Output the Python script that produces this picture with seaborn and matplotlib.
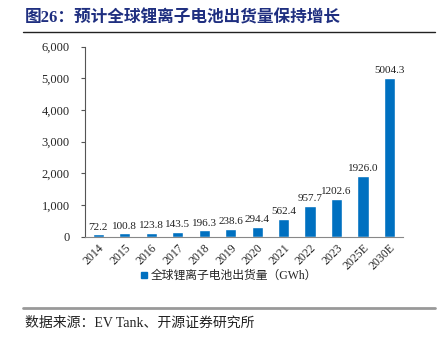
import matplotlib
matplotlib.use("Agg")
import matplotlib.pyplot as plt
import seaborn as sns
import pandas as pd
from matplotlib.lines import Line2D

years = ["2014", "2015", "2016", "2017", "2018", "2019", "2020", "2021", "2022", "2023", "2025E", "2030E"]
values = [72.2, 100.8, 123.8, 143.5, 196.3, 238.6, 294.4, 562.4, 957.7, 1202.6, 1926.0, 5004.3]
series_name = "全球锂离子电池出货量（GWh）"
yticks = [0, 1000, 2000, 3000, 4000, 5000, 6000]

sns.set_theme(style="white")
fam = ['Liberation Serif', 'Noto Sans CJK SC']
plt.rcParams['font.family'] = fam

bar_color = "#0070C0"
fig = plt.figure(figsize=(4.43, 3.41), dpi=100)
ax = fig.add_axes([0.192, 0.306, 0.717, 0.557])

df = pd.DataFrame({"year": years, "value": values})
sns.barplot(data=df, x="year", y="value", color=bar_color, width=0.42, ax=ax, saturation=1)

for i, v in enumerate(values):
    ax.text(i, v + 90, f"{v:.1f}", ha="center", va="bottom", fontsize=8,
            family=['Liberation Serif'], color="#222222")

ax.set_ylim(0, 6000)
ax.set_xlim(-0.5, 11.5)
ax.set_yticks(yticks)
ax.set_yticklabels([f"{t:,}" for t in yticks], fontsize=9)
ax.set_xticks(range(len(years)))
ax.set_xticklabels(years, rotation=45, ha="right", rotation_mode="anchor", fontsize=8.5)
ax.set_xticks([i - 0.5 for i in range(len(years) + 1)], minor=True)
ax.tick_params(axis="x", which="major", length=0, pad=4)
ax.tick_params(axis="x", which="minor", length=3, width=0.8, color="#555555", direction="out")
ax.tick_params(axis="y", length=3, width=0.8, color="#555555", direction="out", left=True, pad=8)
ax.set_xlabel("")
ax.set_ylabel("")
for s in ["top", "right"]:
    ax.spines[s].set_visible(False)
ax.spines["left"].set_color("#555555")
ax.spines["bottom"].set_color("#888888")
ax.spines["left"].set_linewidth(0.8)
ax.spines["bottom"].set_linewidth(0.8)

handle = Line2D([], [], marker="s", linestyle="none", markersize=5,
                markerfacecolor=bar_color, markeredgecolor=bar_color)
fig.legend([handle], [series_name], loc="center", bbox_to_anchor=(0.515, 0.19),
           frameon=False, prop={"family": fam, "size": 8.5},
           handletextpad=0.2, handlelength=0.8)

fig.text(0.056, 0.945, "图26：预计全球锂离子电池出货量保持增长", fontsize=12, fontweight="bold",
         color="#1F2F80", family=fam, va="center", ha="left")
fig.add_artist(Line2D([0.052, 0.982], [0.906, 0.906], color="#222222", linewidth=1))
fig.add_artist(Line2D([0.052, 0.982], [0.096, 0.096], color="#999999", linewidth=2))
fig.text(0.056, 0.053, "数据来源：EV Tank、开源证券研究所", fontsize=10,
         color="#222222", family=fam, va="center", ha="left")

fig.savefig("out.png", dpi=100)
